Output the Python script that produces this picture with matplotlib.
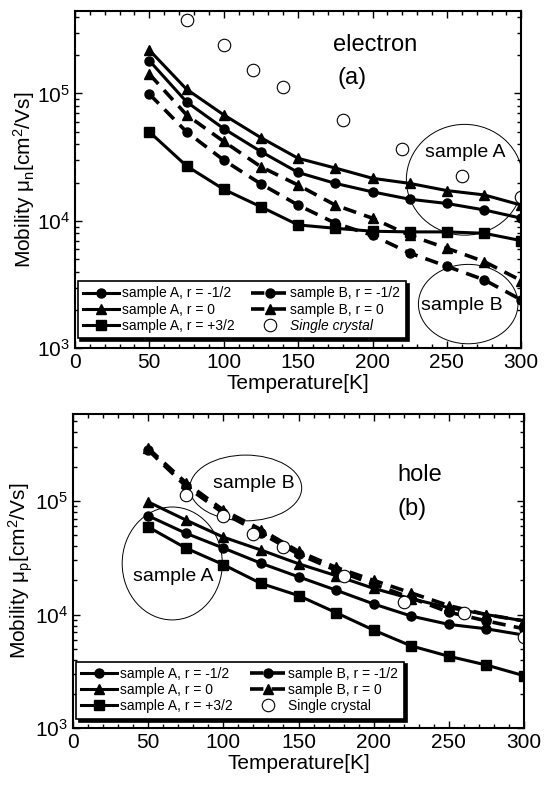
import numpy as np
import matplotlib.pyplot as plt
from matplotlib.patches import Ellipse
from matplotlib.ticker import MultipleLocator, LogLocator, NullFormatter

plt.rcParams['font.family'] = ['Liberation Sans', 'DejaVu Sans']
plt.rcParams['mathtext.fontset'] = 'custom'
plt.rcParams['mathtext.rm'] = 'Liberation Sans'
plt.rcParams['mathtext.it'] = 'Liberation Sans:italic'

# temperatures (K)
T = [50, 75, 100, 125, 150, 175, 200, 225, 250, 275, 300]

# (a) electron mobility, cm^2/Vs
e_A_m12 = [1.81e5, 8.6e4, 5.3e4, 3.5e4, 2.4e4, 1.97e4, 1.69e4, 1.48e4, 1.37e4, 1.22e4, 1.05e4]
e_A_0 = [2.19e5, 1.08e5, 6.8e4, 4.5e4, 3.1e4, 2.6e4, 2.16e4, 1.97e4, 1.73e4, 1.6e4, 1.33e4]
e_A_p32 = [5.0e4, 2.7e4, 1.77e4, 1.29e4, 9.3e3, 8.75e3, 8.3e3, 8.2e3, 8.2e3, 8.0e3, 7.0e3]
e_B_m12 = [9.9e4, 5.0e4, 3.0e4, 1.95e4, 1.33e4, 9.6e3, 7.7e3, 5.6e3, 4.4e3, 3.45e3, 2.4e3]
e_B_0 = [1.42e5, 6.8e4, 4.2e4, 2.66e4, 1.91e4, 1.33e4, 1.05e4, 7.7e3, 6.1e3, 4.8e3, 3.4e3]
e_T_sc = [75, 100, 120, 140, 180, 220, 260, 300]
e_sc = [3.8e5, 2.4e5, 1.53e5, 1.12e5, 6.2e4, 3.65e4, 2.25e4, 1.55e4]

# (b) hole mobility, cm^2/Vs
h_A_m12 = [7.4e4, 5.2e4, 3.85e4, 2.83e4, 2.15e4, 1.64e4, 1.24e4, 9.7e3, 8.2e3, 7.5e3, 6.6e3]
h_A_0 = [9.8e4, 6.8e4, 4.8e4, 3.7e4, 2.8e4, 2.2e4, 1.7e4, 1.38e4, 1.15e4, 1.0e4, 8.8e3]
h_A_p32 = [5.9e4, 3.85e4, 2.75e4, 1.88e4, 1.47e4, 1.04e4, 7.3e3, 5.3e3, 4.3e3, 3.6e3, 2.9e3]
h_B_m12 = [2.8e5, 1.35e5, 7.8e4, 5.2e4, 3.4e4, 2.45e4, 1.85e4, 1.4e4, 1.05e4, 8.8e3, 7.5e3]
h_B_0 = [2.9e5, 1.45e5, 8.3e4, 5.6e4, 3.6e4, 2.6e4, 2.0e4, 1.55e4, 1.2e4, 1.0e4, 8.8e3]
h_T_sc = [75, 100, 120, 140, 180, 220, 260, 300]
h_sc = [1.13e5, 7.4e4, 5.1e4, 3.9e4, 2.2e4, 1.28e4, 1.04e4, 6.3e3]

labels = ['sample A, r = -1/2', 'sample A, r = 0', 'sample A, r = +3/2',
          'sample B, r = -1/2', 'sample B, r = 0', 'Single crystal']

fig = plt.figure(figsize=(5.47, 7.87), dpi=100)
ax1 = fig.add_axes([0.137, 0.5574, 0.816, 0.4292])
ax2 = fig.add_axes([0.1335, 0.0746, 0.8245, 0.3997])

dash = (0, (3.7, 2.3))


def draw(ax, am, a0, ap, bm, b0, tsc, sc, top, sc_italic):
    ax.plot(T, am, '-', color='k', lw=2.2, marker='o', ms=6.5, label=labels[0])
    ax.plot(T, a0, '-', color='k', lw=2.2, marker='^', ms=7, label=labels[1])
    ax.plot(T, ap, '-', color='k', lw=2.2, marker='s', ms=6.5, label=labels[2])
    ax.plot(T, bm, color='k', lw=2.6, ls=dash, marker='o', ms=6.5, label=labels[3])
    ax.plot(T, b0, color='k', lw=2.6, ls=dash, marker='^', ms=7, label=labels[4])
    ax.plot(tsc, sc, 'o', ms=9, mfc='white', mec='k', mew=0.8, ls='none', label=labels[5])
    ax.set_yscale('log')
    ax.set_xlim(0, 300)
    ax.set_ylim(1e3, top)
    ax.xaxis.set_major_locator(MultipleLocator(50))
    ax.xaxis.set_minor_locator(MultipleLocator(10))
    ax.yaxis.set_major_locator(LogLocator(base=10, numticks=10))
    ax.yaxis.set_minor_locator(LogLocator(base=10, subs=np.arange(2, 10), numticks=20))
    ax.yaxis.set_minor_formatter(NullFormatter())
    ax.tick_params(which='both', direction='in', top=True, right=True, width=1)
    ax.tick_params(which='major', length=5, labelsize=15)
    ax.tick_params(which='minor', length=3)
    for s in ax.spines.values():
        s.set_linewidth(1.5)
    ax.set_xlabel('Temperature[K]', fontsize=15, labelpad=1)
    leg = ax.legend(ncol=2, loc='lower left', fontsize=10, frameon=True, fancybox=False,
                    edgecolor='k', shadow={'color': 'k', 'alpha': 1}, handlelength=2.6,
                    handletextpad=0.2, columnspacing=1.2, labelspacing=0.15,
                    borderpad=0.4, bbox_to_anchor=(0.006, 0.03), borderaxespad=0)
    leg.get_frame().set_linewidth(1.2)
    if sc_italic:
        leg.get_texts()[-1].set_style('italic')


draw(ax1, e_A_m12, e_A_0, e_A_p32, e_B_m12, e_B_0, e_T_sc, e_sc, 10 ** 5.651, True)
draw(ax2, h_A_m12, h_A_0, h_A_p32, h_B_m12, h_B_0, h_T_sc, h_sc, 10 ** 5.767, False)

ax1.set_ylabel(r'Mobility μ$_\mathrm{n}$[cm$^2$/Vs]', fontsize=15, labelpad=0)
ax2.set_ylabel(r'Mobility μ$_\mathrm{p}$[cm$^2$/Vs]', fontsize=15, labelpad=0)

# annotations (a)
ax1.text(0.578, 0.898, 'electron', transform=ax1.transAxes, fontsize=17, va='center', ha='left')
ax1.text(0.588, 0.801, '(a)', transform=ax1.transAxes, fontsize=17, va='center', ha='left')
ax1.add_patch(Ellipse((0.873, 0.499), 0.261, 0.328, transform=ax1.transAxes,
                      fill=False, lw=0.7, ec='k'))
ax1.text(0.875, 0.581, 'sample A', transform=ax1.transAxes, fontsize=14, ha='center', va='center')
ax1.add_patch(Ellipse((0.881, 0.131), 0.223, 0.235, transform=ax1.transAxes,
                      fill=False, lw=0.7, ec='k'))
ax1.text(0.867, 0.126, 'sample B', transform=ax1.transAxes, fontsize=14, ha='center', va='center')

# annotations (b)
ax2.text(0.72, 0.804, 'hole', transform=ax2.transAxes, fontsize=17, va='center', ha='left')
ax2.text(0.72, 0.698, '(b)', transform=ax2.transAxes, fontsize=17, va='center', ha='left')
ax2.add_patch(Ellipse((0.383, 0.764), 0.248, 0.209, transform=ax2.transAxes,
                      fill=False, lw=0.7, ec='k'))
ax2.text(0.40, 0.779, 'sample B', transform=ax2.transAxes, fontsize=14, ha='center', va='center')
ax2.add_patch(Ellipse((0.22, 0.524), 0.222, 0.359, transform=ax2.transAxes,
                      fill=False, lw=0.7, ec='k'))
ax2.text(0.222, 0.482, 'sample A', transform=ax2.transAxes, fontsize=14, ha='center', va='center')

fig.savefig('out.png', dpi=100)
